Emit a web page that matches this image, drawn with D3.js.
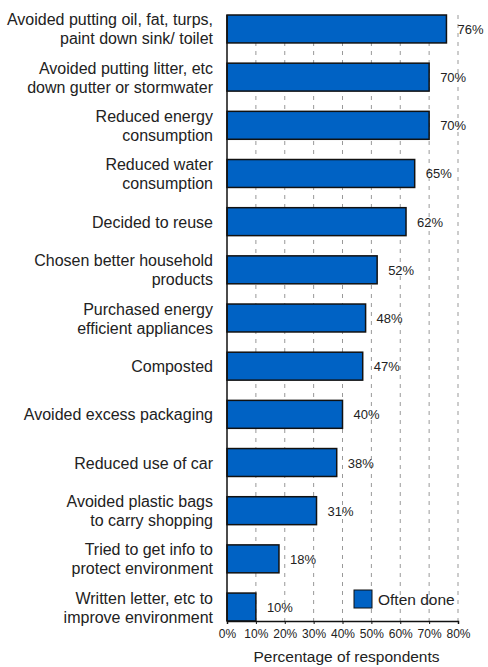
<!DOCTYPE html>
<html>
<head>
<meta charset="utf-8">
<script src="https://cdnjs.cloudflare.com/ajax/libs/d3/7.8.5/d3.min.js"></script>
<style>
  body { margin: 0; background: #fff; }
  text { font-family: "Liberation Sans", Arial, sans-serif; fill: #222; }
</style>
</head>
<body>
<svg id="chart" width="488" height="667"></svg>
<script>
(function() {
    'use strict';

    // Data
    var categories = [
        ["Avoided putting oil, fat, turps,", "paint down sink/ toilet"],
        ["Avoided putting litter, etc", "down gutter or stormwater"],
        ["Reduced energy", "consumption"],
        ["Reduced water", "consumption"],
        ["Decided to reuse"],
        ["Chosen better household", "products"],
        ["Purchased energy", "efficient appliances"],
        ["Composted"],
        ["Avoided excess packaging"],
        ["Reduced use of car"],
        ["Avoided plastic bags", "to carry shopping"],
        ["Tried to get info to", "protect environment"],
        ["Written letter, etc to", "improve environment"]
    ];
    var oftenDone = [76, 70, 70, 65, 62, 52, 48, 47, 40, 38, 31, 18, 10];
    var xTicks = [0, 10, 20, 30, 40, 50, 60, 70, 80];

    var layout = { left: 227, right: 458, top: 15, bottom: 621 };
    var svg = d3.select("#chart");

    var x = d3.scaleLinear().domain([0, 80]).range([layout.left, layout.right]);
    var y = d3.scaleBand()
        .domain(d3.range(categories.length))
        .range([layout.top, layout.bottom])
        .paddingInner(0.42)
        .paddingOuter(0.0);

    // grid lines
    svg.append("g")
        .selectAll("line")
        .data(xTicks.slice(1))
        .enter()
        .append("line")
        .attr("x1", function(d) { return x(d); })
        .attr("x2", function(d) { return x(d); })
        .attr("y1", layout.top)
        .attr("y2", layout.bottom)
        .attr("stroke", "#999")
        .attr("stroke-width", 1)
        .attr("stroke-dasharray", "4,5");

    // bars
    svg.append("g")
        .selectAll("rect")
        .data(oftenDone)
        .enter()
        .append("rect")
        .attr("x", x(0))
        .attr("y", function(d, i) { return y(i); })
        .attr("width", function(d) { return x(d) - x(0); })
        .attr("height", y.bandwidth())
        .attr("fill", "#0062C4")
        .attr("stroke", "#111")
        .attr("stroke-width", 1.5);

    // value labels
    svg.append("g")
        .selectAll("text")
        .data(oftenDone)
        .enter()
        .append("text")
        .attr("x", function(d) { return x(d) + 11; })
        .attr("y", function(d, i) { return y(i) + y.bandwidth() / 2 + 5; })
        .attr("font-size", "13px")
        .attr("fill", "#333")
        .text(function(d) { return d + "%"; });

    // category labels
    var catG = svg.append("g");
    categories.forEach(function(lines, i) {
        var cy = y(i) + y.bandwidth() / 2;
        var t = catG.append("text")
            .attr("text-anchor", "end")
            .attr("font-size", "16px")
            .attr("fill", "#333");
        var lh = 19;
        var startY = cy - (lines.length - 1) * lh / 2 + 6;
        lines.forEach(function(l, k) {
            t.append("tspan").attr("x", 213).attr("y", startY + k * lh).text(l);
        });
    });

    // axes
    var xAxis = d3.axisBottom(x)
        .tickValues(xTicks)
        .tickSize(3)
        .tickFormat(function(d) { return d + "%"; });
    var gx = svg.append("g")
        .attr("transform", "translate(0," + layout.bottom + ")")
        .call(xAxis);
    gx.select(".domain").attr("stroke", "#111").attr("stroke-width", 1.5);
    gx.selectAll(".tick line").attr("stroke", "#111");
    gx.selectAll(".tick text")
        .attr("font-size", "12px")
        .attr("font-family", "Liberation Sans, Arial, sans-serif")
        .attr("fill", "#333")
        .attr("dy", "0.9em");

    svg.append("line")
        .attr("x1", layout.left).attr("x2", layout.left)
        .attr("y1", layout.top).attr("y2", layout.bottom)
        .attr("stroke", "#111").attr("stroke-width", 1.5);

    svg.append("text")
        .attr("x", (layout.left + layout.right) / 2 + 4)
        .attr("y", 662)
        .attr("text-anchor", "middle")
        .attr("font-size", "15.5px")
        .attr("fill", "#333")
        .text("Percentage of respondents");

    // legend
    var leg = svg.append("g").attr("transform", "translate(354,590)");
    leg.append("rect")
        .attr("width", 18).attr("height", 18)
        .attr("fill", "#0062C4").attr("stroke", "#111").attr("stroke-width", 1);
    leg.append("text")
        .attr("x", 24).attr("y", 15)
        .attr("font-size", "15.5px")
        .attr("fill", "#333")
        .text("Often done");
})();
</script>
</body>
</html>
